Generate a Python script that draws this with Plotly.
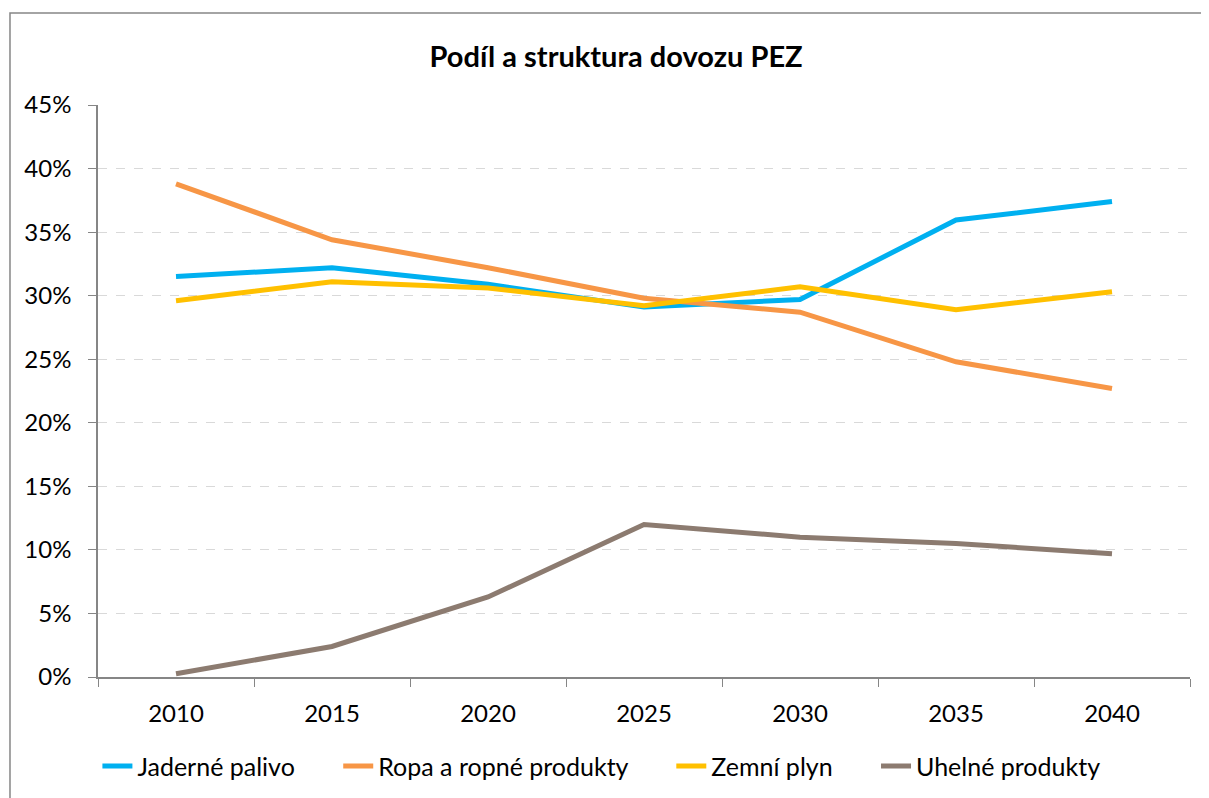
import plotly.graph_objects as go

years = ["2010", "2015", "2020", "2025", "2030", "2035", "2040"]
jaderne = [31.5, 32.2, 30.9, 29.1, 29.7, 35.95, 37.4]
ropa = [38.8, 34.4, 32.2, 29.8, 28.7, 24.8, 22.7]
plyn = [29.6, 31.1, 30.6, 29.2, 30.7, 28.9, 30.3]
uhli = [0.25, 2.4, 6.3, 12.0, 11.0, 10.5, 9.7]

series = [
    ("Jaderné palivo", jaderne, "#00B0F0"),
    ("Ropa a ropné produkty", ropa, "#F79646"),
    ("Zemní plyn", plyn, "#FFC000"),
    ("Uhelné produkty", uhli, "#8C7B70"),
]

font = "Lato, 'Open Sans', sans-serif"
gap = "\u00a0" * 6

fig = go.Figure()
for i, (name, vals, color) in enumerate(series):
    label = name if i == len(series) - 1 else name + gap
    fig.add_trace(go.Scatter(
        x=years, y=[v / 100 for v in vals], name=label, mode="lines",
        line=dict(color=color, width=5),
    ))

fig.update_layout(
    width=1209, height=798,
    margin=dict(l=90, r=27, t=97, b=129),
    paper_bgcolor="white", plot_bgcolor="white",
    font=dict(family=font, size=24, color="black"),
    title=dict(text="<b>Podíl a struktura dovozu PEZ</b>", x=0.503, xanchor="center",
               y=0.9386, yanchor="middle", font=dict(size=29)),
    showlegend=True,
    legend=dict(orientation="h", x=0.461, xanchor="center", y=-0.116, yanchor="top",
                font=dict(size=25), tracegroupgap=0),
    shapes=[dict(type="rect", xref="paper", yref="paper",
                 x0=-0.0806, x1=1.03, y0=-0.25, y1=1.161,
                 line=dict(color="#868686", width=1.5), fillcolor="rgba(0,0,0,0)")],
)

fig.update_xaxes(
    type="category", range=[-0.5, 6.5], showline=True, linecolor="#868686", linewidth=1.5,
    ticks="outside", tickson="boundaries", ticklen=8, tickcolor="#868686",
    showgrid=False, ticklabelstandoff=14,
)
fig.update_yaxes(
    range=[0, 0.45], dtick=0.05, tickformat=".0%",
    showline=True, linecolor="#868686", linewidth=1.5,
    ticks="outside", ticklen=8, tickcolor="#868686",
    showgrid=True, gridcolor="#D9D9D9", griddash="dash", gridwidth=1.2,
    zeroline=False, ticklabelstandoff=12,
)

fig.write_html("out.html")
